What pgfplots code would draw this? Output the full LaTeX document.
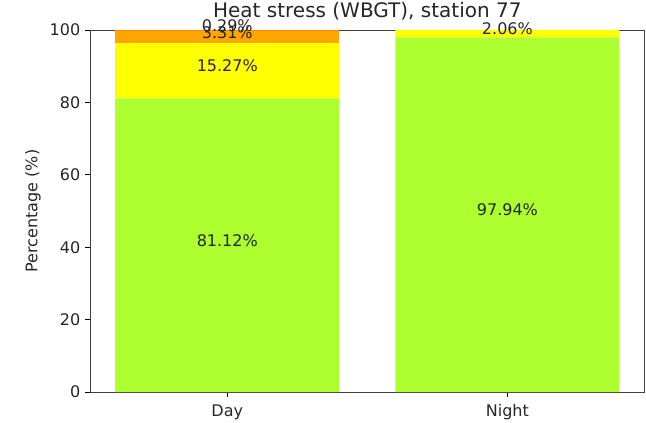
\documentclass[border=0pt]{standalone}
\usepackage{pgfplots}
\pgfplotsset{compat=1.18}
\usepackage{fontspec}
\setmainfont{DejaVu Sans}
\definecolor{cgreen}{HTML}{ADFF2F}
\definecolor{cyellow}{HTML}{FFFF00}
\definecolor{corange}{HTML}{FFA500}
\definecolor{cdorange}{HTML}{FF8C00}
\tikzset{lbl/.style={font=\fontsize{12}{14}\selectfont, yshift=3.5pt, text=black!85}}
\begin{document}
\begin{tikzpicture}
\begin{axis}[
  at={(0,0)}, anchor=south west,
  scale only axis,
  width=416pt, height=271.5pt,
  ybar stacked,
  bar width=0.8,
  xmin=-0.49, xmax=1.49,
  ymin=0, ymax=100,
  xtick={0,1}, xticklabels={Day,Night},
  ytick={0,20,40,60,80,100},
  tick align=outside,
  tick pos=left,
  major tick length=3.75pt,
  axis line style={black!75, line width=0.6pt},
  tick style={black, line width=0.6pt},
  /pgf/number format/assume math mode=true,
  ticklabel style={font=\fontsize{12}{14}\selectfont, text=black!85},
  xticklabel style={yshift=-2pt},
  ylabel={Percentage (\%)},
  ylabel style={font=\fontsize{12}{14}\selectfont, text=black!85, at={(axis description cs:-0.1028,0.5)}, anchor=center},
  title={Heat stress (WBGT), station 77},
  title style={font=\fontsize{15}{17}\selectfont, text=black!85, at={(axis description cs:0.5,1)}, anchor=base, yshift=3pt},
  clip=false,
]
\addplot[fill=cgreen, draw=none] coordinates {(0,81.12) (1,97.94)};
\addplot[fill=cyellow, draw=none] coordinates {(0,15.27) (1,2.06)};
\addplot[fill=corange, draw=none] coordinates {(0,3.31) (1,0)};
\addplot[fill=cdorange, draw=none] coordinates {(0,0.29) (1,0)};
\coordinate (a1) at (axis cs:0,40.56);
\coordinate (a2) at (axis cs:0,88.755);
\coordinate (a3) at (axis cs:0,98.045);
\coordinate (a4) at (axis cs:0,99.845);
\coordinate (b1) at (axis cs:1,48.97);
\coordinate (b2) at (axis cs:1,98.97);
\end{axis}
\node[lbl] at (a1) {81.12\%};
\node[lbl] at (a2) {15.27\%};
\node[lbl] at (a3) {3.31\%};
\node[lbl] at (a4) {0.29\%};
\node[lbl] at (b1) {97.94\%};
\node[lbl] at (b2) {2.06\%};
\pgfresetboundingbox
\useasboundingbox (-67.5pt,-22.5pt) rectangle (417pt,294pt);
\end{tikzpicture}
\end{document}
